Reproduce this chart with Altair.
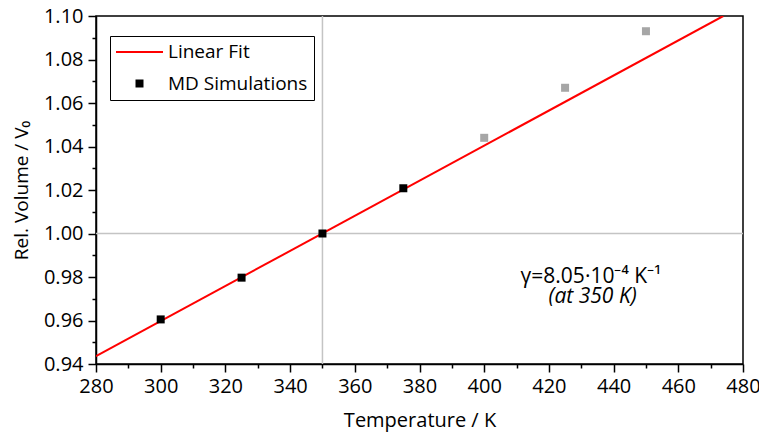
import altair as alt
import pandas as pd

# ---- data ----
T_md = [300, 325, 350, 375]
V_md = [0.9605, 0.9797, 1.000, 1.0208]
T_ext = [400, 425, 450]
V_ext = [1.044, 1.067, 1.093]
fit_T = [280, 473.9]
fit_V = [0.9436, 1.100]
series_names = ["Linear Fit", "MD Simulations"]
x_ticks = [280, 300, 320, 340, 360, 380, 400, 420, 440, 460, 480]
x_minor = [290, 310, 330, 350, 370, 390, 410, 430, 450, 470]
y_ticks = [0.94, 0.96, 0.98, 1.00, 1.02, 1.04, 1.06, 1.08, 1.10]
y_minor = [0.95, 0.97, 0.99, 1.01, 1.03, 1.05, 1.07, 1.09]
ref_T = 350
ref_V = 1.00
annot_text = ["γ=8.05·10⁻⁴ K⁻¹", "(at 350 K)"]
annot_T = [433, 433.5]
annot_V = [0.9774, 0.9681]

FONT = "Open Sans"
RED = "#ff0000"
GREY = "#a6a6a6"

# legend symbol glyphs (styling only): a long thin bar and a small square
LINE_GLYPH = "M-1,-0.1H3.7V0.1H-1Z"
SQUARE_GLYPH = "M2.375,-1H4.375V1H2.375Z"

df_md = pd.DataFrame({"T": T_md, "V": V_md, "series": [series_names[1]] * len(T_md)})
df_ext = pd.DataFrame({"T": T_ext, "V": V_ext})
df_fit = pd.DataFrame({"T": fit_T, "V": fit_V})
df_ann = pd.DataFrame({"T": annot_T, "V": annot_V, "txt": annot_text})

xs = alt.Scale(domain=[280, 480], nice=False, zero=False)
ys = alt.Scale(domain=[0.94, 1.10], nice=False, zero=False)

common_axis = dict(domainColor="black", domainWidth=1.5, tickColor="black", tickWidth=1.5,
                   grid=False, labelFont=FONT, labelColor="black", titleFont=FONT,
                   titleColor="black", titleFontWeight="normal", labelFlush=False)

x_major = alt.Axis(values=x_ticks, format="d", orient="bottom", tickSize=8, labelPadding=4,
                   labelFontSize=20, title="Temperature / K", titleFontSize=20,
                   titlePadding=14, **common_axis)
y_major = alt.Axis(values=y_ticks, format=".2f", orient="left", tickSize=8, labelPadding=5,
                   labelFontSize=20, title="Rel. Volume / V₀", titleFontSize=19,
                   titlePadding=12, **common_axis)
x_min = alt.Axis(values=x_minor, orient="bottom", tickSize=4, labels=False, domain=False,
                 title=None, ticks=True, tickColor="black", tickWidth=1.5, grid=False)
y_min = alt.Axis(values=y_minor, orient="left", tickSize=4, labels=False, domain=False,
                 title=None, ticks=True, tickColor="black", tickWidth=1.5, grid=False)

legend = alt.Legend(
    title=None, orient="none", legendX=14, legendY=20,
    strokeColor="black", padding=6, labelFont=FONT, labelFontSize=19,
    labelColor="black", labelOffset=32, rowPadding=12,
    symbolStrokeWidth=0, symbolOpacity=1,
)

vrule = alt.Chart().mark_rule(color="#c4c4c4", strokeWidth=1.5).encode(
    x=alt.datum(ref_T, scale=xs, axis=None))
hrule = alt.Chart().mark_rule(color="#c4c4c4", strokeWidth=1.5).encode(
    y=alt.datum(ref_V, scale=ys, axis=None))

fit = alt.Chart(df_fit).mark_line(strokeWidth=2, clip=True, color=RED).encode(
    x=alt.X("T:Q", scale=xs, axis=x_major),
    y=alt.Y("V:Q", scale=ys, axis=y_major),
)

ext = alt.Chart(df_ext).mark_point(shape="square", filled=True, size=64, opacity=1,
                                   color=GREY).encode(
    x=alt.X("T:Q", scale=xs, axis=x_min),
    y=alt.Y("V:Q", scale=ys, axis=y_min),
)

# legend carrier: draws no marks itself (filtered out), only defines the legend
md_leg = alt.Chart(df_md).transform_filter("false").mark_point(filled=True, opacity=1).encode(
    x=alt.X("T:Q", scale=xs, axis=None),
    y=alt.Y("V:Q", scale=ys, axis=None),
    color=alt.Color("series:N", scale=alt.Scale(domain=series_names, range=[RED, "#000000"]),
                    legend=legend),
    shape=alt.Shape("series:N", scale=alt.Scale(domain=series_names,
                                                range=[LINE_GLYPH, SQUARE_GLYPH]),
                    legend=legend),
    size=alt.Size("series:N", scale=alt.Scale(domain=series_names, range=[400, 64]),
                  legend=legend),
)

md = alt.Chart(df_md).mark_point(shape="square", filled=True, size=64, opacity=1,
                                 color="black").encode(
    x=alt.X("T:Q", scale=xs, axis=None),
    y=alt.Y("V:Q", scale=ys, axis=None),
)

ann1 = alt.Chart(df_ann.iloc[[0]]).mark_text(font=FONT, fontSize=21, color="black",
                                              align="center", baseline="alphabetic").encode(
    x=alt.X("T:Q", scale=xs, axis=None), y=alt.Y("V:Q", scale=ys, axis=None), text="txt:N")
ann2 = alt.Chart(df_ann.iloc[[1]]).mark_text(font=FONT, fontSize=21, color="black",
                                              fontStyle="italic", align="center",
                                              baseline="alphabetic").encode(
    x=alt.X("T:Q", scale=xs, axis=None), y=alt.Y("V:Q", scale=ys, axis=None), text="txt:N")

chart = alt.layer(vrule, hrule, fit, ext, md_leg, md, ann1, ann2).resolve_axis(
    x="independent", y="independent"
).properties(
    width=647, height=348, autosize="none",
    padding={"left": 88, "top": 8, "right": 16, "bottom": 69},
    background="white",
).configure_view(stroke="black", strokeWidth=1.5)

chart.save("out.html", embed_options={"renderer": "svg", "actions": False})
